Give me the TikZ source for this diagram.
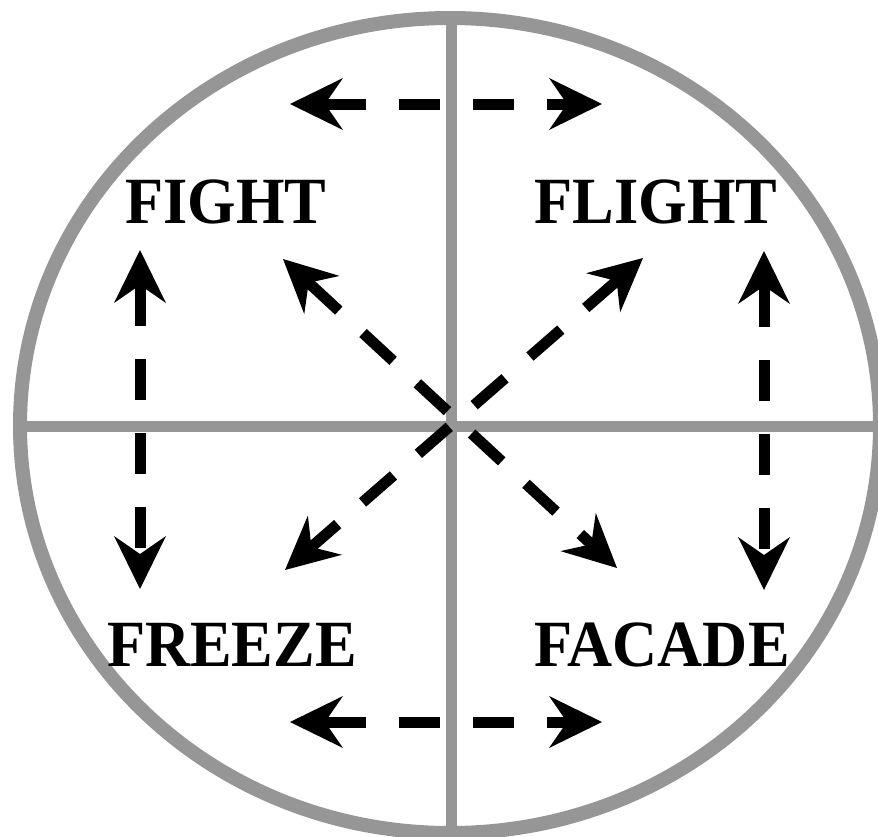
\documentclass[tikz,border=0pt]{standalone}
\usepackage{fontspec}
\setmainfont{Liberation Serif}
\usetikzlibrary{arrows.meta}
\definecolor{ringgray}{RGB}{150,150,150}
\tikzset{
  ring/.style={draw=ringgray, line width=14pt},
  axis/.style={draw=ringgray, line width=11pt},
  label/.style={font=\fontsize{66}{70}\selectfont\bfseries, anchor=base, inner sep=0pt},
  dasharrow/.style={draw=black, line width=11pt, dash pattern=on 41pt off 33pt,
    {Stealth[length=53pt,width=52pt,inset=18pt,line width=0pt]}-{Stealth[length=53pt,width=52pt,inset=18pt,line width=0pt]}}
}
\newcommand{\squeezed}[1]{\scalebox{0.945}[1]{#1}}
\begin{document}
\begin{tikzpicture}[x=1pt,y=-1pt]
\useasboundingbox (0,0) rectangle (878,836);
\clip (0,0) rectangle (878,836);
% ring and axes
\draw[ring] (450,425.5) ellipse [x radius=430, y radius=407.5];
\coordinate (top) at (451,18);
\coordinate (bottom) at (451,833);
\coordinate (left) at (20,426);
\coordinate (right) at (880,426);
\draw[axis] (top) -- (bottom);
\draw[axis] (left) -- (right);
% labels
\node[label] (fight) at (226,223) {\squeezed{FIGHT}};
\node[label] (flight) at (656,223) {\squeezed{FLIGHT}};
\node[label] (freeze) at (232,666) {\squeezed{FREEZE}};
\node[label] (facade) at (662,666) {\squeezed{FACADE}};
% arrow ends
\coordinate (tA) at (290,104);
\coordinate (tB) at (602,104);
\coordinate (bA) at (290,722);
\coordinate (bB) at (602,722);
\coordinate (lA) at (140,250);
\coordinate (lB) at (140,589);
\coordinate (rA) at (764,251);
\coordinate (rB) at (764,590);
\coordinate (nw) at (283,259);
\coordinate (se) at (617,568);
\coordinate (ne) at (643,258);
\coordinate (sw) at (285,570);
% arrows
\draw[dasharrow] (tA) -- (tB);
\draw[dasharrow] (bA) -- (bB);
\draw[dasharrow] (lA) -- (lB);
\draw[dasharrow] (rA) -- (rB);
\draw[dasharrow] (nw) -- (se);
\draw[dasharrow] (ne) -- (sw);
\end{tikzpicture}
\end{document}
